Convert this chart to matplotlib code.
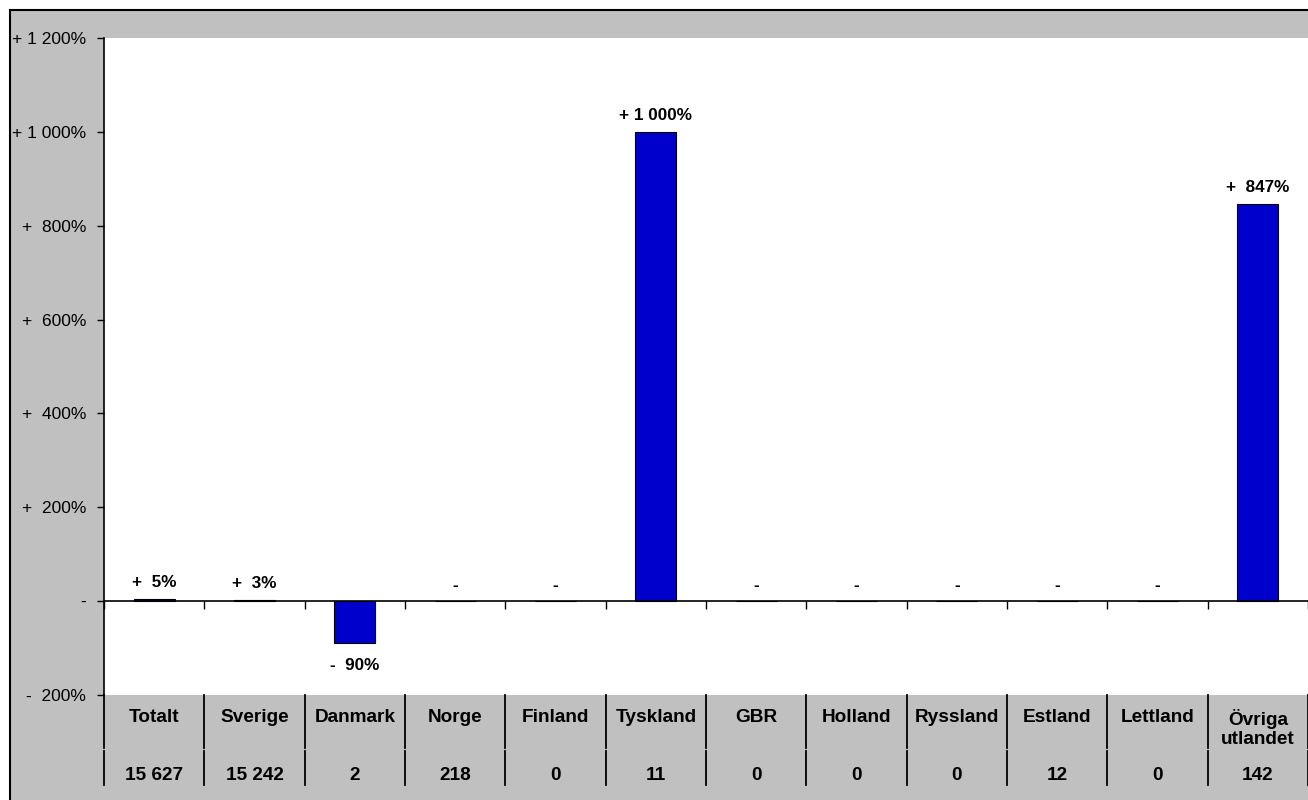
import matplotlib
matplotlib.use("Agg")
import matplotlib.pyplot as plt
from matplotlib.patches import Rectangle
from matplotlib.lines import Line2D

plt.rcParams['font.family'] = ['Liberation Sans', 'DejaVu Sans']

categories = ["Totalt", "Sverige", "Danmark", "Norge", "Finland", "Tyskland", "GBR",
              "Holland", "Ryssland", "Estland", "Lettland", "Övriga\nutlandet"]
change_pct = [5, 3, -90, 0, 0, 1000, 0, 0, 0, 0, 0, 847]
counts = ["15 627", "15 242", "2", "218", "0", "11", "0", "0", "0", "12", "0", "142"]
yticks = [-200, 0, 200, 400, 600, 800, 1000, 1200]


def fmt(v):
    if v == 0:
        return "-"
    sign = "+" if v > 0 else "-"
    a = abs(int(v))
    if a >= 1000:
        s = f"{a:,}".replace(",", " ")
        return f"{sign} {s}%"
    return f"{sign}  {a}%"


W, H = 1308, 800
fig = plt.figure(figsize=(W / 100, H / 100), dpi=100)
fig.patch.set_facecolor("white")

# background axes: grey chart area with black border on top/left
bg = fig.add_axes([0, 0, 1, 1], zorder=0)
bg.set_xlim(0, W)
bg.set_ylim(H, 0)
bg.axis("off")
bg.add_patch(Rectangle((10, 10), W - 10, H - 10, facecolor="#C0C0C0", edgecolor="none"))
bg.plot([10, W], [10, 10], color="black", lw=1.5)
bg.plot([10, 10], [10, H], color="black", lw=1.5)

left, right, top, bottom = 104, 1308, 38, 695
ax = fig.add_axes([left / W, 1 - bottom / H, (right - left) / W, (bottom - top) / H], zorder=2)
ax.set_facecolor("white")

n = len(categories)
xs = list(range(n))
ax.bar(xs, change_pct, width=0.41, color="#0000CC", edgecolor="black", linewidth=0.8, zorder=3)

ax.set_xlim(-0.5, n - 0.5)
ax.set_ylim(-200, 1200)

ax.set_yticks(yticks)
ax.set_yticklabels([fmt(v) for v in yticks], fontsize=12.5)
ax.tick_params(axis="y", direction="out", length=5, width=1, pad=8)

ax.spines["top"].set_visible(False)
ax.spines["right"].set_visible(False)
ax.spines["left"].set_linewidth(1.2)
ax.spines["bottom"].set_position(("data", 0))
ax.spines["bottom"].set_linewidth(1.2)
ax.spines["bottom"].set_zorder(5)
ax.set_xticks([i - 0.5 for i in range(n + 1)])
ax.set_xticklabels([])
ax.tick_params(axis="x", direction="out", length=6, width=1)

# data labels
for x, v in zip(xs, change_pct):
    if v > 0:
        off = 16
    elif v < 0:
        off = -22
    else:
        off = 16
    ax.annotate(fmt(v), (x, v), xytext=(0, off * 0.72), textcoords="offset points",
                ha="center", va="center", fontsize=12.3, fontweight="bold", zorder=4)

# table under the plot
trans = ax.get_xaxis_transform()
hpx = bottom - top
for i in range(n + 1):
    xb = i - 0.5
    ax.add_line(Line2D([xb, xb], [0, -53 / hpx], transform=trans, color="black",
                       lw=1.3, clip_on=False))
    ax.add_line(Line2D([xb, xb], [-56 / hpx, -90 / hpx], transform=trans, color="black",
                       lw=1.3, clip_on=False))

for x, c, cnt in zip(xs, categories, counts):
    ax.text(x, -14 / hpx, c, transform=trans, ha="center", va="top", fontsize=13.7,
            fontweight="bold", linespacing=1.12, clip_on=False)
    ax.text(x, -80 / hpx, cnt, transform=trans, ha="center", va="center", fontsize=13.7,
            fontweight="bold", clip_on=False)

fig.savefig("out.png", dpi=100, facecolor=fig.get_facecolor())
